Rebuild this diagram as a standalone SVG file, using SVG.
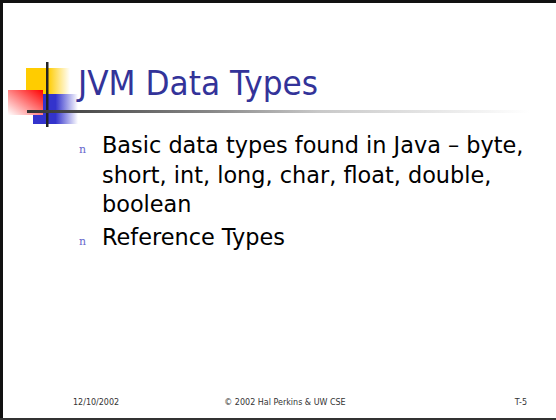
<svg xmlns="http://www.w3.org/2000/svg" width="556" height="420" viewBox="0 0 556 420">
  <defs>
    <linearGradient id="gYellow" x1="0" y1="0" x2="1" y2="0">
      <stop offset="0" stop-color="#ffcc00"/>
      <stop offset="0.5" stop-color="#ffcc00"/>
      <stop offset="1" stop-color="#ffffff"/>
    </linearGradient>
    <linearGradient id="gBlue" x1="0" y1="0" x2="1" y2="0">
      <stop offset="0" stop-color="#3333cc"/>
      <stop offset="0.5" stop-color="#3333cc"/>
      <stop offset="1" stop-color="#ffffff"/>
    </linearGradient>
    <linearGradient id="gRed" x1="1" y1="0" x2="0" y2="1">
      <stop offset="0" stop-color="#ff0000"/>
      <stop offset="1" stop-color="#ffffff"/>
    </linearGradient>
    <linearGradient id="gRule" x1="0" y1="0" x2="1" y2="0">
      <stop offset="0" stop-color="#333333"/>
      <stop offset="0.35" stop-color="#888888"/>
      <stop offset="0.55" stop-color="#c8c8c8"/>
      <stop offset="0.95" stop-color="#ffffff"/>
    </linearGradient>
    <style>
      .title { font-family: "DejaVu Sans", Verdana, sans-serif; font-size: 34px; fill: #333399; }
      .body { font-family: "DejaVu Sans", Verdana, sans-serif; font-size: 22.4px; fill: #000000; }
      .bullet { font-family: "DejaVu Serif", "Liberation Serif", serif; font-size: 11px; fill: #6666cc; }
      .foot { font-family: "DejaVu Sans", Verdana, sans-serif; font-size: 8px; fill: #333333; }
    </style>
  </defs>

  <rect x="0" y="0" width="556" height="420" fill="#ffffff"/>

  <!-- slide frame -->
  <g id="frame" fill="#111111">
    <rect x="0" y="0" width="556" height="3"/>
    <rect x="0" y="0" width="3" height="420"/>
    <rect x="0" y="418" width="556" height="2" fill="#333333"/>
  </g>

  <!-- corner ornament -->
  <g id="ornament">
    <rect x="26" y="68" width="44" height="26" fill="url(#gYellow)"/>
    <rect x="33" y="94" width="45" height="30" fill="url(#gBlue)"/>
    <rect x="8" y="90" width="35" height="25" fill="url(#gRed)"/>
    <rect x="46" y="62" width="2.5" height="65" fill="#222222"/>
    <rect x="27" y="110" width="529" height="3" fill="url(#gRule)"/>
  </g>

  <g id="title">
    <text class="title" x="78" y="95" textLength="240" lengthAdjust="spacingAndGlyphs">JVM Data Types</text>
  </g>

  <g id="bullets">
    <text class="bullet" x="79" y="153">n</text>
    <text class="body" x="102" y="153">Basic data types found in Java – byte,</text>
    <text class="body" x="102" y="183">short, int, long, char, float, double,</text>
    <text class="body" x="102" y="212">boolean</text>
    <text class="bullet" x="79" y="245">n</text>
    <text class="body" x="102" y="245">Reference Types</text>
  </g>

  <g id="footer">
    <text class="foot" x="73" y="405">12/10/2002</text>
    <text class="foot" x="285" y="405" text-anchor="middle">© 2002 Hal Perkins &amp; UW CSE</text>
    <text class="foot" x="527" y="405" text-anchor="end">T-5</text>
  </g>
</svg>
